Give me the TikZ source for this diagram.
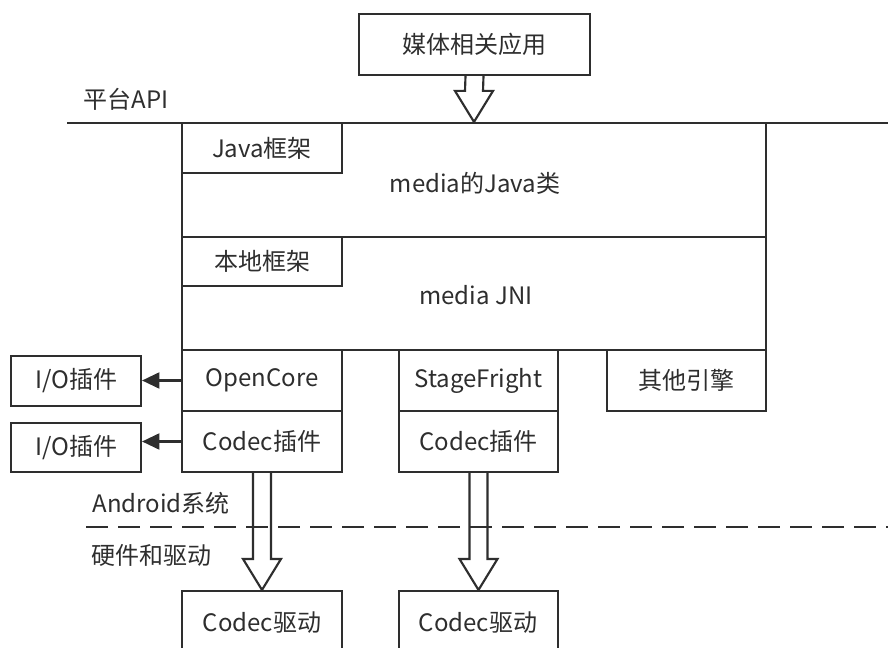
\documentclass[tikz,border=0pt]{standalone}
\usepackage{fontspec}
\setmainfont{Noto Sans CJK SC}
\usetikzlibrary{calc,arrows.meta}
\definecolor{ink}{HTML}{2E2E2E}
\tikzset{
  ln/.style={draw=ink, line width=1.6pt},
  box/.style={ln, fill=white, inner sep=0pt, text=ink, font=\fontsize{18}{21}\selectfont},
  lbl/.style={inner sep=0pt, text=ink, font=\fontsize{18}{21}\selectfont},
  solidarrow/.style={ln, -{Triangle[length=13pt,width=12pt]}},
  hollow/.style={ln, line join=miter}
}
\newcommand\bx[6]{%
  \node[box, minimum width={(#4-#2)*0.75pt}, minimum height={(#5-#3)*0.75pt}]
    (#1) at ({(#2+#4)/2},{(#3+#5)/2}) {#6};}
\newcommand\hollowdown[2]{%
  \draw[hollow] ($(#1)+(-9,0)$) -- ($(#2)+(-9,-31)$) -- ($(#2)+(-19,-31)$) -- (#2)
    -- ($(#2)+(19,-31)$) -- ($(#2)+(9,-31)$) -- ($(#1)+(9,0)$);}
\begin{document}
\begin{tikzpicture}[x=0.75pt,y=-0.75pt]
\clip (0,0) rectangle (888,648);
\fill[white] (0,0) rectangle (888,648);
% top app
\bx{app}{359}{14}{590}{75}{媒体相关应用}
% platform API line
\coordinate (apiL) at (67,123);
\coordinate (apiR) at (890,123);
\node[lbl] (api) at (126,99) {平台API};
% big layers
\bx{javacls}{182}{123}{766}{237}{}
\node[lbl] (javatxt) at (475,183) {media的Java类};
\bx{jni}{182}{237}{766}{350}{}
\node[lbl] (jnitxt) at (476,295) {media JNI};
\draw[ln] (apiL) -- (apiR);
\bx{javafw}{182}{123}{342}{173}{Java框架}
\bx{nativefw}{182}{237}{342}{286}{本地框架}
% engines
\bx{opencore}{182}{350}{342}{411}{OpenCore}
\bx{codec1}{182}{411}{342}{472}{Codec插件}
\bx{stage}{399}{350}{558}{411}{StageFright}
\bx{codec2}{399}{411}{558}{472}{Codec插件}
\bx{other}{607}{350}{766}{411}{其他引擎}
% IO plugins
\bx{io1}{11}{356}{141}{406}{I/O插件}
\bx{io2}{11}{423}{141}{472}{I/O插件}
\draw[solidarrow] (opencore.west) -- (opencore.west -| io1.east);
\draw[solidarrow] (codec1.west) -- (codec1.west -| io2.east);
% divider
\coordinate (dashL) at (86,527);
\coordinate (dashR) at (890,527);
\draw[ln, dash pattern=on 16.5pt off 7.5pt] (dashL) -- (dashR);
\node[lbl] (android) at (161,503) {Android系统};
\node[lbl] (hw) at (151,555) {硬件和驱动};
% drivers
\bx{drv1}{182}{591}{342}{665}{}
\node[lbl] (drv1txt) at (262,623) {Codec驱动};
\bx{drv2}{399}{591}{558}{665}{}
\node[lbl] (drv2txt) at (478,623) {Codec驱动};
% hollow arrows
\hollowdown{app.south}{javacls.north}
\hollowdown{codec1.south}{drv1.north}
\hollowdown{codec2.south}{drv2.north}
\end{tikzpicture}
\end{document}
